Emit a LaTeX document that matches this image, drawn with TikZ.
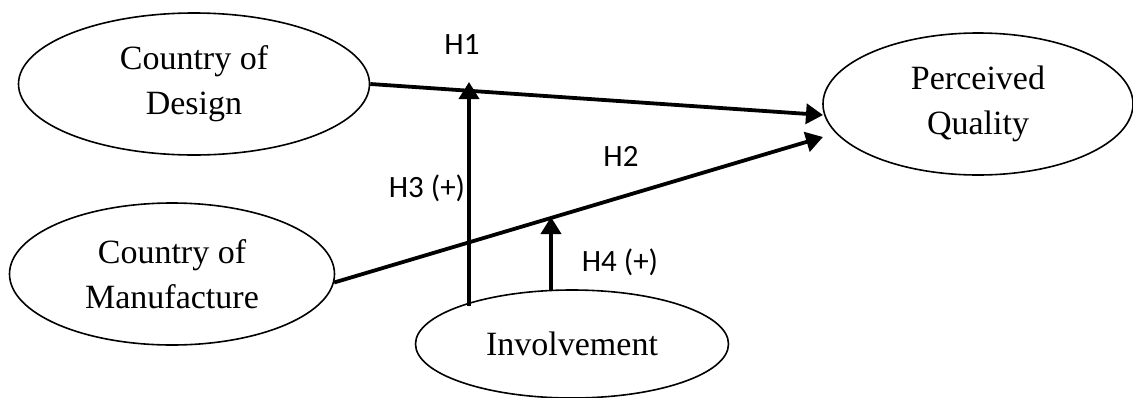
\documentclass[tikz,border=0pt]{standalone}
\usepackage{fontspec}
\setmainfont{Liberation Serif}
\newfontfamily\lblfont{Carlito}
\usetikzlibrary{shapes.geometric,arrows.meta}
\tikzset{
  oval/.style={draw, ellipse, line width=1.6pt, inner sep=0pt, align=center,
    font=\fontsize{34}{45}\selectfont},
  conn/.style={line width=3.8pt, -{Triangle[width=20pt,length=17pt]}},
  lbl/.style={font=\lblfont\fontsize{31}{36}\selectfont, inner sep=0pt}
}
\begin{document}
\begin{tikzpicture}[x=1pt,y=-1pt]
\useasboundingbox (0,0) rectangle (1133,397);
\node[oval, minimum width=351pt, minimum height=142pt] (design) at (194,84) {Country of\\Design};
\node[oval, minimum width=310pt, minimum height=142pt] (pq) at (978,104) {Perceived\\Quality};
\node[oval, minimum width=325pt, minimum height=142pt] (manu) at (172,274) {Country of\\Manufacture};
\node[oval, minimum width=313pt, minimum height=108pt] (inv) at (572,344) {Involvement};
\coordinate (h1end) at (823,115);
\coordinate (h2end) at (823,137);
\coordinate (h3s) at (469,306);
\coordinate (h3e) at (469,82);
\coordinate (h4s) at (551,291);
\coordinate (h4e) at (551,217);
\draw[conn] (design.east) -- (h1end);
\draw[conn] (manu.-3.5) -- (h2end);
\draw[conn] (h3s) -- (h3e);
\draw[conn] (h4s) -- (h4e);
\node[lbl] (l1) at (462,45) {H1};
\node[lbl] (l2) at (621,156) {H2};
\node[lbl] (l3) at (427,188) {H3 (+)};
\node[lbl] (l4) at (620,262) {H4 (+)};
\end{tikzpicture}
\end{document}
